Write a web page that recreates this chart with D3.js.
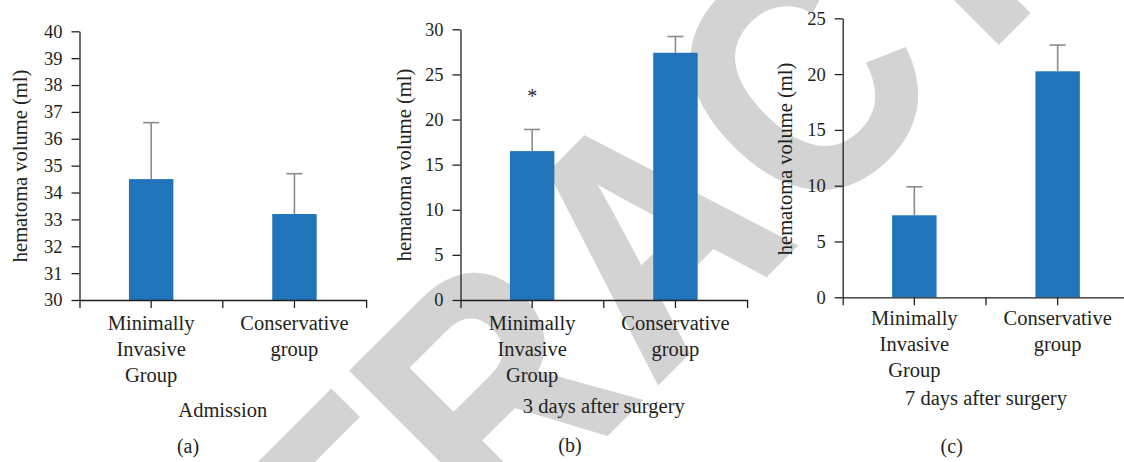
<!DOCTYPE html>
<html><head><meta charset="utf-8">
<script src="https://cdn.jsdelivr.net/npm/d3@7/dist/d3.min.js"></script>
<style>body{margin:0;background:#fff}svg{display:block}</style>
</head><body>
<svg id="chart" width="1124" height="462"></svg>
<script>
// ---------------- data ----------------
const categories = ["Minimally Invasive Group", "Conservative group"];
const categoryLines = [["Minimally", "Invasive", "Group"], ["Conservative", "group"]];
const panelTitles = ["Admission", "3 days after surgery", "7 days after surgery"];
const panelLetters = ["(a)", "(b)", "(c)"];
const yAxisLabel = "hematoma volume (ml)";

const admissionMeans = [34.5, 33.2];
const admissionSD = [2.1, 1.5];
const day3Means = [16.5, 27.4];
const day3SD = [2.4, 1.8];
const day7Means = [7.35, 20.25];
const day7SD = [2.55, 2.35];

const admissionTicks = [30, 31, 32, 33, 34, 35, 36, 37, 38, 39, 40];
const day3Ticks = [0, 5, 10, 15, 20, 25, 30];
const day7Ticks = [0, 5, 10, 15, 20, 25];

const day3Marks = ["*", ""];
const watermarkText = "RETRACTED";

// ---------------- styles ----------------
const INK = "#231f20";
const BAR = "#2173ba";
const ERR = "#8c8c8c";
const SERIF = "'Liberation Serif', 'Times New Roman', serif";

const svg = d3.select("#chart");
svg.append("rect").attr("width", 1124).attr("height", 462).attr("fill", "#fff");

// ---------------- watermark (behind everything) ----------------
const wm = svg.append("g").attr("transform", "rotate(-45)")
  .attr("font-family", "'Liberation Sans', Arial, sans-serif")
  .attr("font-weight", "bold").attr("font-size", 327)
  .attr("fill", "#d3d3d3").attr("stroke", "#d3d3d3").attr("stroke-width", 4);
const wmX = [-511, -311, -127, 71, 292, 509, 697, 881, 1081];
wm.selectAll("text").data(watermarkText.split("")).join("text")
  .attr("transform", (d, i) => `translate(${wmX[i]},736) scale(0.88,1)`)
  .attr("text-anchor", "middle").text(d => d);

// ---------------- panels ----------------
const panels = [
  { means: admissionMeans, sd: admissionSD, ticks: admissionTicks, marks: null,
    x0: 79.5, yTop: 31.3, yBot: 300, catY: 330, titleY: 417, letterX: 188, letterY: 453, labX: 27, labY: 166 },
  { means: day3Means, sd: day3SD, ticks: day3Ticks, marks: day3Marks,
    x0: 460.5, yTop: 29.3, yBot: 300, catY: 330, titleY: 413, letterX: 570, letterY: 452, labX: 411, labY: 165 },
  { means: day7Means, sd: day7SD, ticks: day7Ticks, marks: null,
    x0: 842.7, yTop: 18.3, yBot: 297.3, catY: 325, titleY: 405, letterX: 951.7, letterY: 453, labX: 792, labY: 159 }
];
const STEP = 143.3;

panels.forEach((p, pi) => {
  const g = svg.append("g");
  const x = d3.scaleBand().domain(categories)
    .range([p.x0, p.x0 + STEP * categories.length])
    .paddingInner(0.69).paddingOuter(0.345);
  const y = d3.scaleLinear().domain(d3.extent(p.ticks)).range([p.yBot, p.yTop]);

  // bars
  g.selectAll("rect.bar").data(categories).join("rect").attr("class", "bar")
    .attr("x", d => x(d)).attr("width", x.bandwidth())
    .attr("y", (d, i) => y(p.means[i]))
    .attr("height", (d, i) => y(y.domain()[0]) - y(p.means[i]))
    .attr("fill", BAR);

  // error bars
  const eb = g.selectAll("g.err").data(categories).join("g").attr("class", "err")
    .attr("stroke", ERR).attr("stroke-width", 1.6).attr("fill", "none");
  eb.append("line")
    .attr("x1", d => x(d) + x.bandwidth() / 2).attr("x2", d => x(d) + x.bandwidth() / 2)
    .attr("y1", (d, i) => y(p.means[i])).attr("y2", (d, i) => y(p.means[i] + p.sd[i]));
  eb.append("line")
    .attr("x1", d => x(d) + x.bandwidth() / 2 - 8).attr("x2", d => x(d) + x.bandwidth() / 2 + 8)
    .attr("y1", (d, i) => y(p.means[i] + p.sd[i])).attr("y2", (d, i) => y(p.means[i] + p.sd[i]));

  // significance marks
  if (p.marks) {
    g.selectAll("text.mark").data(categories).join("text").attr("class", "mark")
      .attr("x", d => x(d) + x.bandwidth() / 2)
      .attr("y", (d, i) => y(p.means[i] + p.sd[i]) - 26)
      .attr("text-anchor", "middle").attr("font-family", SERIF).attr("font-size", 20)
      .attr("fill", INK).text((d, i) => p.marks[i]);
  }

  // y axis
  const ya = g.append("g").attr("transform", `translate(${p.x0},0)`)
    .call(d3.axisLeft(y).tickValues(p.ticks).tickFormat(d3.format("d"))
      .tickSize(8).tickSizeOuter(0).tickPadding(9));
  ya.attr("font-family", SERIF);
  ya.selectAll("path,line").attr("stroke", INK).attr("stroke-width", 1.3);
  ya.selectAll("text").attr("font-family", SERIF).attr("font-size", 18.5).attr("fill", INK);

  // x axis
  const xa = g.append("g").attr("transform", `translate(0,${p.yBot})`)
    .call(d3.axisBottom(x).tickSize(8).tickSizeOuter(8).tickFormat(""));
  xa.selectAll("path,line").attr("stroke", INK).attr("stroke-width", 1.3);
  const bounds = d3.range(1, categories.length).map(k => x.range()[0] + k * x.step());
  xa.selectAll("line.bound").data(bounds).join("line").attr("class", "bound")
    .attr("x1", d => d).attr("x2", d => d).attr("y1", 0).attr("y2", 8)
    .attr("stroke", INK).attr("stroke-width", 1.3);

  // category labels (multi-line)
  const cl = g.selectAll("text.cat").data(categories).join("text").attr("class", "cat")
    .attr("text-anchor", "middle").attr("font-family", SERIF).attr("font-size", 20.5)
    .attr("fill", INK);
  cl.each(function (d, i) {
    const cx = x(d) + x.bandwidth() / 2;
    d3.select(this).selectAll("tspan").data(categoryLines[i]).join("tspan")
      .attr("x", cx).attr("y", (t, j) => p.catY + j * 26).text(t => t);
  });

  // panel subtitle
  g.append("text").attr("x", x.range()[0] + x.step()).attr("y", p.titleY)
    .attr("text-anchor", "middle").attr("font-family", SERIF).attr("font-size", 20.5)
    .attr("fill", INK).text(panelTitles[pi]);

  // panel letter
  g.append("text").attr("x", p.letterX).attr("y", p.letterY)
    .attr("text-anchor", "middle").attr("font-family", SERIF).attr("font-size", 20)
    .attr("fill", INK).text(panelLetters[pi]);

  // y label
  g.append("text").attr("transform", `translate(${p.labX},${p.labY}) rotate(-90)`)
    .attr("text-anchor", "middle").attr("font-family", SERIF).attr("font-size", 20.5)
    .attr("fill", INK).text(yAxisLabel);
});
</script>
</body></html>
